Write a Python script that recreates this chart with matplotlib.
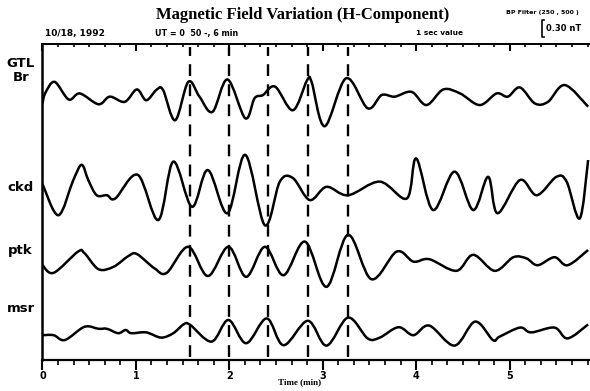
import numpy as np
import matplotlib
matplotlib.use("Agg")
import matplotlib.pyplot as plt
from matplotlib.ticker import MultipleLocator
from matplotlib.path import Path
from matplotlib.patches import PathPatch
from matplotlib.lines import Line2D, TICKDOWN

# time (min) and H-component variation (nT)
gtl_t = [0.0, 0.03, 0.13, 0.28, 0.40, 0.60, 0.72, 0.88, 1.01, 1.11, 1.22, 1.29, 1.42, 1.56, 1.68, 1.82,
         1.98, 2.17, 2.27, 2.36, 2.49, 2.68, 2.83, 2.88, 3.02, 3.25, 3.48, 3.63, 3.77, 3.95, 4.11, 4.29,
         4.47, 4.68, 4.86, 4.98, 5.11, 5.27, 5.41, 5.59, 5.84]
gtl_v = [-0.16, 0.10, 0.38, -0.06, 0.09, -0.18, 0.01, -0.12, 0.19, -0.08, 0.18, 0.18, -0.58, 0.38, 0.01, -0.37,
         0.44, -0.53, -0.03, 0.05, 0.26, -0.33, 0.41, 0.38, -0.73, 0.47, -0.28, 0.05, 0.01, 0.13, -0.20, 0.19,
         0.09, -0.20, 0.09, 0.01, 0.24, -0.16, -0.12, 0.30, -0.24]

ckd_t = [0.0, 0.17, 0.33, 0.42, 0.49, 0.58, 0.69, 0.78, 1.02, 1.24, 1.40, 1.60, 1.77, 1.98, 2.17, 2.38,
         2.54, 2.68, 2.86, 3.04, 3.27, 3.61, 3.90, 4.00, 4.18, 4.41, 4.61, 4.77, 4.87, 5.11, 5.29, 5.50,
         5.61, 5.75, 5.84]
ckd_v = [0.15, -0.63, 0.25, 0.63, 0.25, -0.13, -0.13, -0.21, 0.38, -0.75, 0.71, -0.42, 0.50, -0.58, 0.88, -0.88,
         0.21, 0.30, -0.25, 0.08, -0.13, 0.21, -0.21, 0.79, -0.50, 0.46, -0.50, 0.33, -0.58, 0.25, -0.13, 0.33,
         0.21, -0.71, 0.75]

ptk_t = [0.0, 0.12, 0.38, 0.45, 0.60, 0.76, 0.92, 1.01, 1.20, 1.33, 1.56, 1.77, 1.99, 2.18, 2.38, 2.58,
         2.81, 3.04, 3.27, 3.52, 3.79, 3.97, 4.14, 4.43, 4.61, 4.84, 5.04, 5.18, 5.30, 5.48, 5.62, 5.84]
ptk_v = [-0.13, -0.32, 0.21, 0.17, -0.23, -0.17, 0.10, 0.15, -0.21, -0.32, 0.33, -0.40, 0.33, -0.42, 0.33, -0.38,
         0.46, -0.67, 0.63, -0.48, 0.21, -0.04, 0.02, -0.27, 0.13, -0.27, 0.07, 0.04, -0.13, 0.07, -0.13, 0.25]

msr_t = [0.0, 0.12, 0.24, 0.45, 0.60, 0.69, 0.81, 0.89, 0.95, 1.11, 1.27, 1.40, 1.51, 1.58, 1.81, 1.99,
         2.18, 2.40, 2.58, 2.84, 3.04, 3.27, 3.48, 3.61, 3.81, 3.97, 4.14, 4.41, 4.63, 4.82, 4.89, 5.11,
         5.23, 5.48, 5.62, 5.84]
msr_v = [-0.08, -0.08, -0.20, 0.13, 0.08, 0.08, -0.03, 0.05, -0.03, -0.01, -0.14, -0.03, 0.19, 0.18, -0.24, 0.30,
         -0.28, 0.34, -0.33, 0.28, -0.34, 0.36, -0.16, -0.14, 0.12, -0.08, 0.16, -0.34, 0.26, -0.20, -0.12, 0.11,
         -0.01, 0.11, -0.16, 0.19]

stations = ["GTL\nBr", "ckd", "ptk", "msr"]
offsets = [6.575, 4.25, 2.5, 0.7]      # nT, vertical stacking
marks = [1.58, 2.00, 2.41, 2.84, 3.27]  # dashed reference times (min)


def smooth_path(t, v):
    # Catmull-Rom through the read points, drawn as cubic Bezier segments
    p = np.column_stack([t, v])
    ext = np.vstack([p[0], p, p[-1]])
    verts = [p[0]]
    codes = [Path.MOVETO]
    for i in range(len(p) - 1):
        p0, p1, p2, p3 = ext[i], ext[i + 1], ext[i + 2], ext[i + 3]
        verts += [p1 + (p2 - p0) / 6, p2 - (p3 - p1) / 6, p2]
        codes += [Path.CURVE4] * 3
    return Path(verts, codes)


fig = plt.figure(figsize=(5.9, 3.91), dpi=100)
ax = fig.add_axes([0.072, 0.0793, 0.928, 0.808])

series = [(gtl_t, gtl_v), (ckd_t, ckd_v), (ptk_t, ptk_v), (msr_t, msr_v)]
for (t, v), off in zip(series, offsets):
    ax.add_patch(PathPatch(smooth_path(t, np.array(v) + off), fill=False,
                           edgecolor="black", lw=1.8, joinstyle="round"))

for m in marks:
    ax.axvline(m, ymin=0.01, ymax=0.99, color="black", lw=1.7, ls=(0, (5, 3.5)))

ax.set_xlim(0, 5.86)
ax.set_ylim(0, 7.9)
ax.spines["right"].set_visible(False)
ax.spines["left"].set_linewidth(1.8)
ax.spines["bottom"].set_linewidth(1.6)
ax.spines["top"].set_linewidth(1.4)
ax.set_yticks([])
ax.xaxis.set_major_locator(MultipleLocator(1))
ax.xaxis.set_minor_locator(MultipleLocator(1 / 6))
ax.tick_params(axis="x", which="major", direction="out", length=7, width=1.5,
               top=True, labelsize=7, pad=1)
ax.tick_params(axis="x", which="minor", direction="out", length=3.5, width=1.2, top=True)
for lab in ax.get_xticklabels():
    lab.set_fontweight("bold")
# top ruler ticks point down into the plot
for tk in ax.xaxis.get_major_ticks():
    tk.tick2line.set_marker(TICKDOWN)
    tk.tick2line.set_markersize(5)
for tk in ax.xaxis.get_minor_ticks():
    tk.tick2line.set_marker(TICKDOWN)
    tk.tick2line.set_markersize(2.5)
ax.set_xlabel("Time (min)", fontsize=6.5, fontweight="bold", family="Liberation Serif")
ax.xaxis.set_label_coords(0.47, -0.058)

fig.text(0.513, 0.962, "Magnetic Field Variation (H-Component)", ha="center", va="center",
         fontsize=12, fontweight="bold", family="Liberation Serif")
fig.text(0.077, 0.915, "10/18, 1992", ha="left", va="center", fontsize=6.5, fontweight="bold")
fig.text(0.262, 0.915, "UT = 0  50 -, 6 min", ha="left", va="center", fontsize=5.8, fontweight="bold")
fig.text(0.705, 0.915, "1 sec value", ha="left", va="center", fontsize=5.3, fontweight="bold")
fig.text(0.858, 0.967, "BP Filter (250 , 500 )", ha="left", va="center", fontsize=4.5, fontweight="bold")
fig.text(0.925, 0.926, "0.30 nT", ha="left", va="center", fontsize=6, fontweight="bold")
fig.lines.append(Line2D([0.922, 0.919, 0.919, 0.922], [0.95, 0.95, 0.905, 0.905],
                        transform=fig.transFigure, color="black", lw=1.2))

label_y = [0.82, 0.52, 0.36, 0.21]
for name, y in zip(stations, label_y):
    fig.text(0.035, y, name, ha="center", va="center", fontsize=9.5, fontweight="bold",
             linespacing=1.1)

fig.savefig("out.png", dpi=100)
